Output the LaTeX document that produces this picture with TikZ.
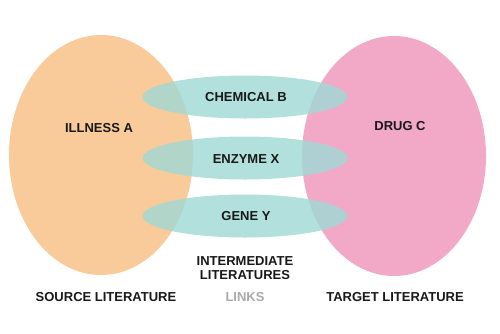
\documentclass[tikz,border=0pt]{standalone}
\usepackage{fontspec}
\setmainfont{Liberation Sans}
\usetikzlibrary{shapes.geometric}
\definecolor{srcor}{HTML}{F9CA9A}
\definecolor{tgtpk}{HTML}{F2A8C7}
\definecolor{linkteal}{HTML}{9FDAD5}
\definecolor{linkgray}{HTML}{AAAAAA}
\tikzset{
  bigset/.style={ellipse, draw=none, minimum width=184pt, minimum height=240pt, inner sep=0pt},
  linkset/.style={ellipse, draw=none, fill=linkteal, fill opacity=0.8, text opacity=1, minimum width=205pt, minimum height=43pt, inner sep=0pt},
  lbl/.style={font=\fontsize{13}{14.5}\selectfont\bfseries, text=black!90, inner sep=0pt, align=center},
}
\begin{document}
\begin{tikzpicture}[x=1pt,y=-1pt]
\useasboundingbox[fill=white] (0,0) rectangle (500,333);
\node[bigset, fill=srcor] (src) at (101,155) {};
\node[bigset, fill=tgtpk] (tgt) at (394,156) {};
\node[linkset] (chem) at (245,97) {};
\node[linkset] (enz) at (245,158) {};
\node[linkset] (gene) at (245,216) {};
\node[lbl] (chemt) at (246,97) {CHEMICAL B};
\node[lbl] (enzt) at (246,159) {ENZYME X};
\node[lbl] (genet) at (246,216) {GENE Y};
\node[lbl] (illt) at (99,128) {ILLNESS A};
\node[lbl] (drugt) at (400,126) {DRUG C};
\node[lbl] (inter) at (245,268) {INTERMEDIATE\\[-1pt]LITERATURES};
\node[lbl, text=linkgray] (links) at (245,297) {LINKS};
\node[lbl] (srct) at (106,297) {SOURCE LITERATURE};
\node[lbl] (tgtt) at (395,297) {TARGET LITERATURE};
\end{tikzpicture}
\end{document}
